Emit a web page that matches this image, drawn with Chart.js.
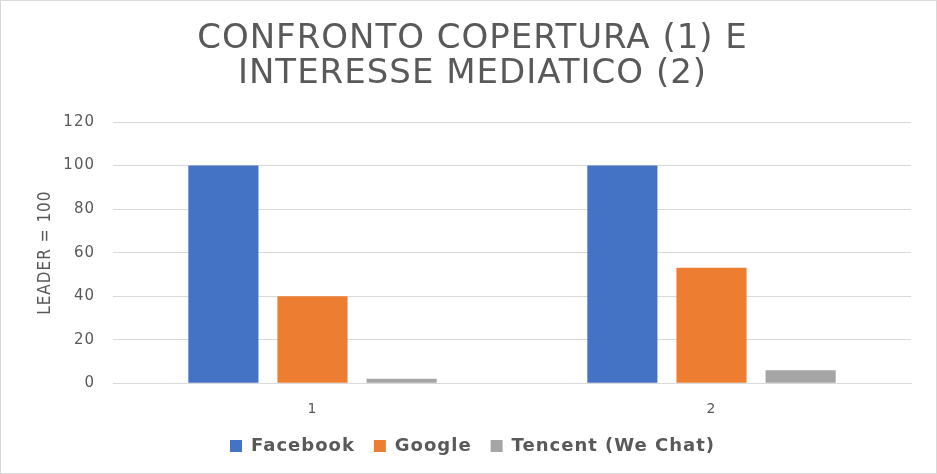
<!DOCTYPE html>
<html><head><meta charset="utf-8">
<script src="https://cdn.jsdelivr.net/npm/chart.js@4.4.1/dist/chart.umd.min.js"></script>
<style>
html,body{margin:0;padding:0;background:#fff;}
#wrap{position:absolute;left:0;top:0;width:935px;height:472px;border:1px solid #d9d9d9;}
</style></head>
<body><div id="wrap"><canvas id="c" width="935" height="472"></canvas></div>
<script>
const categories = ["1", "2"];
const facebook = [100, 100];
const google = [40, 53];
const tencent = [2, 6];
const seriesNames = ["Facebook", "Google", "Tencent (We Chat)"];
const titleLines = ["CONFRONTO COPERTURA (1) E", "INTERESSE MEDIATICO (2)"];
const yTitle = "LEADER = 100";

const cond = "'DejaVu Sans Condensed','Liberation Sans Narrow','Roboto',sans-serif";
const spacing = {
  id: 'spacing',
  beforeUpdate(chart) { chart.ctx.letterSpacing = '1px'; },
  beforeDraw(chart) { chart.ctx.letterSpacing = '1px'; }
};
new Chart(document.getElementById('c'), {
  type: 'bar',
  plugins: [spacing],
  data: {
    labels: categories,
    datasets: [
      {label: seriesNames[0], data: facebook, backgroundColor: '#4472c4'},
      {label: seriesNames[1], data: google, backgroundColor: '#ed7d31'},
      {label: seriesNames[2], data: tencent, backgroundColor: '#a5a5a5'}
    ]
  },
  options: {
    responsive: false,
    animation: false,
    layout: {padding: {left: 33, right: 25, top: 10, bottom: 8}},
    categoryPercentage: 0.67,
    barPercentage: 0.787,
    plugins: {
      title: {display: true, text: titleLines, color: '#595959',
        font: {family: "'DejaVu Sans',sans-serif", size: 34, weight: 'normal', lineHeight: 1.045}, padding: {top: 10, bottom: 30}},
      legend: {position: 'bottom', labels: {color: '#595959', boxWidth: 12, boxHeight: 12,
        padding: 19, font: {family: "'DejaVu Sans','Liberation Sans',sans-serif", size: 18, weight: 'bold'}}},
      tooltip: {enabled: false}
    },
    scales: {
      x: {grid: {display: false, drawTicks: true, tickLength: 18}, border: {display: true, color: '#d9d9d9'},
        ticks: {color: '#595959', font: {family: "'DejaVu Sans',sans-serif", size: 14}, padding: 0}},
      y: {min: 0, max: 120, ticks: {stepSize: 20, color: '#595959', padding: 18,
          font: {family: "'DejaVu Sans',sans-serif", size: 15}},
        afterFit(scale) { scale.width = 79; },
        grid: {color: '#d9d9d9', drawTicks: false}, border: {display: false},
        title: {display: true, text: yTitle, color: '#595959', font: {family: cond, size: 17}, padding: {top: 1, bottom: 12}}}
    }
  }
});
</script></body></html>
